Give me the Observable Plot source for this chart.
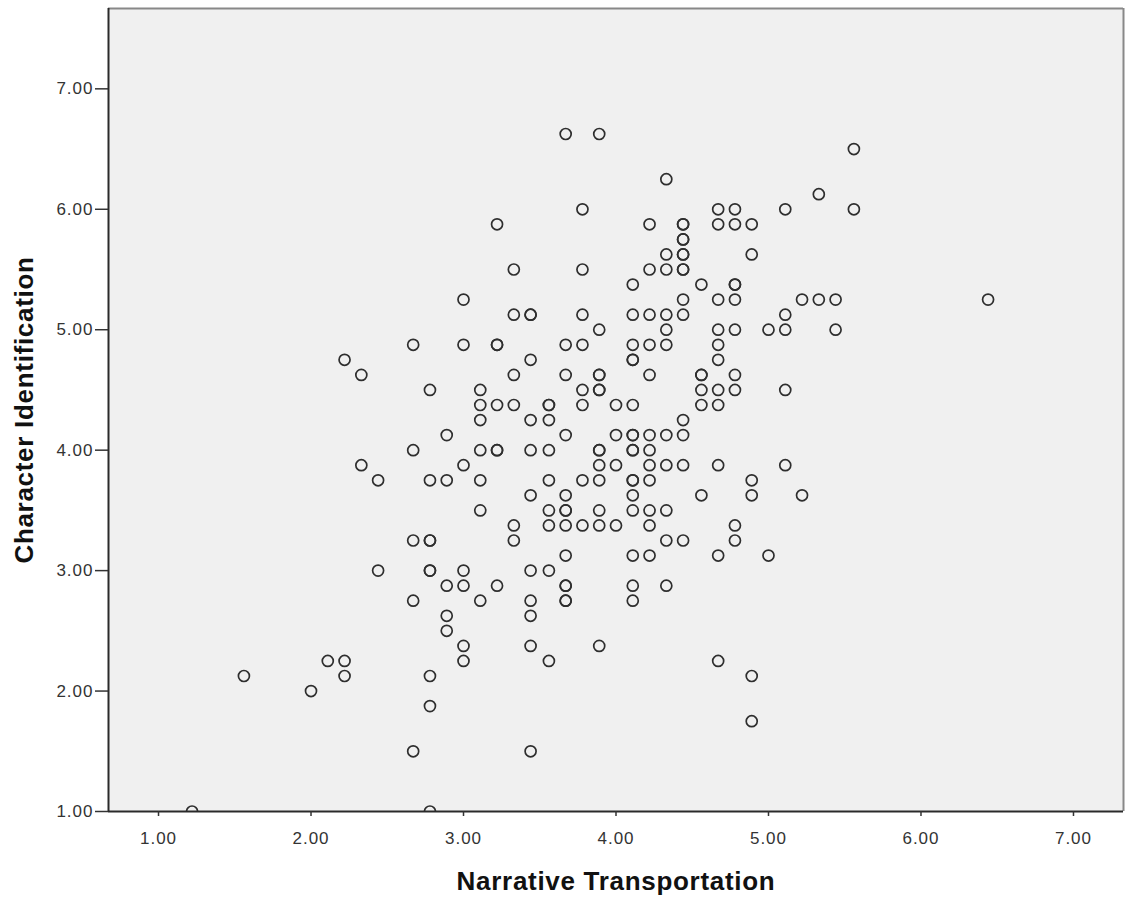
<!DOCTYPE html>
<html><head><meta charset="utf-8">
<script src="https://cdn.jsdelivr.net/npm/d3@7"></script>
<script src="https://cdn.jsdelivr.net/npm/@observablehq/plot@0.6"></script>
<style>
html,body{margin:0;padding:0;background:#fff;overflow:hidden;}
#chart svg{display:block;}
#chart g[aria-label="x-axis tick label"] text,
#chart g[aria-label="y-axis tick label"] text{letter-spacing:1px;}
#chart g[aria-label="text"] text{letter-spacing:0.7px;}
</style></head><body><div id="chart"></div>
<script>
// Narrative Transportation levels (x) and the Character Identification values (y) observed at each level
const narrativeLevels = [1.22, 1.56, 2.00, 2.11, 2.22, 2.33, 2.44, 2.67, 2.78, 2.89,
  3.00, 3.11, 3.22, 3.33, 3.44, 3.56, 3.67, 3.78, 3.89, 4.00,
  4.11, 4.22, 4.33, 4.44, 4.56, 4.67, 4.78, 4.89, 5.00, 5.11,
  5.22, 5.33, 5.44, 5.56, 6.44];
const identificationByLevel = [
  [1.0],
  [2.125],
  [2.0],
  [2.25],
  [4.75, 2.25, 2.125],
  [4.625, 3.875],
  [3.75, 3.0],
  [4.875, 4.0, 3.25, 2.75, 1.5],
  [4.5, 3.75, 3.25, 3.25, 3.0, 3.0, 2.125, 1.875, 1.0],
  [4.125, 3.75, 2.875, 2.625, 2.5],
  [5.25, 4.875, 3.875, 3.0, 2.875, 2.375, 2.25],
  [4.5, 4.375, 4.25, 4.0, 3.75, 3.5, 2.75],
  [5.875, 4.875, 4.875, 4.375, 4.0, 4.0, 2.875],
  [5.5, 5.125, 4.625, 4.375, 3.375, 3.25],
  [5.125, 5.125, 4.75, 4.25, 4.0, 3.625, 3.0, 2.75, 2.625, 2.375, 1.5],
  [4.375, 4.375, 4.25, 4.0, 3.75, 3.5, 3.375, 3.0, 2.25],
  [6.625, 4.875, 4.625, 4.125, 3.625, 3.5, 3.5, 3.375, 3.125, 2.875, 2.875, 2.75, 2.75],
  [6.0, 5.5, 5.125, 4.875, 4.5, 4.375, 3.75, 3.375],
  [6.625, 5.0, 4.625, 4.625, 4.5, 4.5, 4.0, 4.0, 3.875, 3.75, 3.5, 3.375, 2.375],
  [4.375, 4.125, 3.875, 3.375],
  [5.375, 5.125, 4.875, 4.75, 4.75, 4.375, 4.125, 4.125, 4.0, 4.0, 3.75, 3.75, 3.625, 3.5, 3.125, 2.875, 2.75],
  [5.875, 5.5, 5.125, 4.875, 4.625, 4.125, 4.0, 3.875, 3.75, 3.5, 3.375, 3.125],
  [6.25, 5.625, 5.5, 5.125, 5.0, 4.875, 4.125, 3.875, 3.5, 3.25, 2.875],
  [5.875, 5.875, 5.75, 5.75, 5.625, 5.625, 5.5, 5.5, 5.25, 5.125, 4.25, 4.125, 3.875, 3.25],
  [5.375, 4.625, 4.625, 4.5, 4.375, 3.625],
  [6.0, 5.875, 5.25, 5.0, 4.875, 4.75, 4.5, 4.375, 3.875, 3.125, 2.25],
  [6.0, 5.875, 5.375, 5.375, 5.25, 5.0, 4.625, 4.5, 3.375, 3.25],
  [5.875, 5.625, 3.75, 3.625, 2.125, 1.75],
  [5.0, 3.125],
  [6.0, 5.125, 5.0, 4.5, 3.875],
  [5.25, 3.625],
  [6.125, 5.25],
  [5.25, 5.0],
  [6.5, 6.0],
  [5.25]
];
const tickValues = [1, 2, 3, 4, 5, 6, 7];
const xTitle = "Narrative Transportation";
const yTitle = "Character Identification";
const xDomain = [0.672, 7.328];
const yDomain = [1, 7.667];

const points = narrativeLevels.flatMap((x, i) => identificationByLevel[i].map(y => ({x, y})));

const chart = Plot.plot({
  width: 1125,
  height: 902,
  marginLeft: 108,
  marginRight: 2,
  marginTop: 8,
  marginBottom: 91,
  style: {fontFamily: "'Liberation Sans', Arial, sans-serif", background: "#fff", color: "#222"},
  x: {domain: xDomain},
  y: {domain: yDomain},
  marks: [
    Plot.frame({fill: "#f0f0f0", stroke: null}),
    Plot.dot(points, {x: "x", y: "y", r: 5.5, stroke: "#2e2e2e", strokeWidth: 1.7, fill: "none", clip: true}),
    Plot.ruleY([yDomain[1]], {stroke: "#888", strokeWidth: 2}),
    Plot.ruleX([xDomain[1]], {stroke: "#888", strokeWidth: 2}),
    Plot.ruleX([xDomain[0]], {stroke: "#2a2a2a", strokeWidth: 2}),
    Plot.ruleY([yDomain[0]], {stroke: "#2a2a2a", strokeWidth: 2}),
    Plot.axisX({ticks: tickValues, tickFormat: d => d.toFixed(2), tickSize: 5, tickPadding: 15, label: null, fontSize: 17, color: "#333", strokeWidth: 1.5}),
    Plot.axisY({ticks: tickValues, tickFormat: d => d.toFixed(2), tickSize: 13, tickPadding: 2, label: null, fontSize: 17, color: "#333", strokeWidth: 1.5}),
    Plot.text([xTitle], {text: d => d, frameAnchor: "bottom", dy: 70, lineAnchor: "middle", textAnchor: "middle", fontSize: 26, fontWeight: "bold", fill: "#111"}),
    Plot.text([yTitle], {text: d => d, frameAnchor: "left", dx: -84, rotate: -90, lineAnchor: "middle", textAnchor: "middle", fontSize: 26, fontWeight: "bold", fill: "#111"})
  ]
});
document.getElementById("chart").appendChild(chart);
</script>
</body></html>
